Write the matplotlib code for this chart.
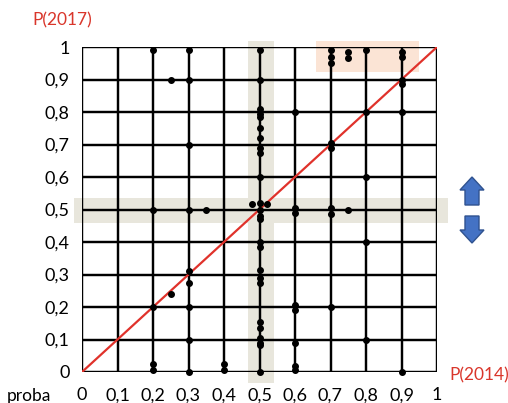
import numpy as np
import matplotlib
matplotlib.use('Agg')
import matplotlib.pyplot as plt
from matplotlib.patches import Rectangle, Polygon

## Data: probability in 2014 (x) vs probability in 2017 (y), read column by column
cols_2014 = [0.2, 0.25, 0.3, 0.35, 0.4, 0.48, 0.52, 0.5, 0.6, 0.7, 0.75, 0.8, 0.9]
vals_2017 = [
    [0.99, 0.5, 0.2, 0.025, 0.005],
    [0.9, 0.24],
    [0.99, 0.9, 0.7, 0.5, 0.31, 0.275, 0.2, 0.1, 0.0],
    [0.5],
    [0.025, 0.005],
    [0.517],
    [0.517],
    [0.99, 0.9, 0.81, 0.795, 0.785, 0.75, 0.72, 0.69, 0.675, 0.6,
     0.52, 0.5, 0.48, 0.47, 0.40, 0.385, 0.315, 0.29, 0.275,
     0.155, 0.135, 0.105, 0.09, 0.083, 0.0],
    [0.8, 0.505, 0.49, 0.205, 0.19, 0.09, 0.02, 0.005],
    [0.99, 0.97, 0.95, 0.705, 0.69, 0.505, 0.485, 0.2],
    [0.985, 0.965, 0.5],
    [0.99, 0.8, 0.6, 0.4, 0.1],
    [0.985, 0.97, 0.9, 0.885, 0.8, 0.0],
]
ticks = np.round(np.arange(0, 1.01, 0.1), 1)
tick_labels = ['0' if t == 0 else '1' if t == 1 else ('%.1f' % t).replace('.', ',') for t in ticks]

px = []
py = []
for xv, ys in zip(cols_2014, vals_2017):
    px += [xv] * len(ys)
    py += ys

W, H = 508, 403
fig = plt.figure(figsize=(W / 100, H / 100), dpi=100)
plt.rcParams['font.family'] = ['Lato', 'DejaVu Sans']

ax = fig.add_axes([82 / W, 31 / H, 355 / W, 325 / H])
ax.set_xlim(0, 1)
ax.set_ylim(0, 1)

## shaded bands (partly outside the axes)
beige = '#e8e6dc'
ax.add_patch(Rectangle((0.468, -0.035), 0.073, 1.052, color=beige, zorder=0, clip_on=False, lw=0))
ax.add_patch(Rectangle((-0.022, 0.457), 1.054, 0.077, color=beige, zorder=0, clip_on=False, lw=0))
ax.add_patch(Rectangle((0.659, 0.924), 0.29, 0.093, color='#fbe4d5', zorder=0, clip_on=False, lw=0))

## grid
for t in ticks:
    ax.axvline(t, color='k', lw=1.75, zorder=1)
    ax.axhline(t, color='k', lw=1.75, zorder=1)
for s in ax.spines.values():
    s.set_visible(False)
ax.patch.set_alpha(0)

## diagonal
ax.plot([0, 1], [0, 1], color='#e0322b', lw=1.6, zorder=2)
ax.plot(px, py, 'o', color='k', ms=4.0, zorder=3, clip_on=False)

ax.set_xticks(ticks)
ax.set_xticklabels(tick_labels)
ax.set_yticks(ticks)
ax.set_yticklabels(tick_labels)
ax.tick_params(length=0, labelsize=13)
ax.tick_params(axis='x', pad=11)
ax.tick_params(axis='y', pad=9)

fig.text(62 / W, 1 - 20 / H, 'P(2017)', color='#d9362b', fontsize=12.5, ha='center', va='center')
fig.text(479 / W, 1 - 375 / H, 'P(2014)', color='#d9362b', fontsize=12.5, ha='center', va='center')
fig.text(29 / W, 1 - 396 / H, 'proba', color='k', fontsize=12.5, ha='center', va='center')

## blue arrows
def arrow(x0, y_tip, y_end):
    hw, sw, hh = 12, 7, 13
    d = 1 if y_end > y_tip else -1
    pts = [(x0, y_tip), (x0 + hw, y_tip + d * hh), (x0 + sw, y_tip + d * hh),
           (x0 + sw, y_end), (x0 - sw, y_end), (x0 - sw, y_tip + d * hh),
           (x0 - hw, y_tip + d * hh)]
    pts = [(x / W, 1 - y / H) for x, y in pts]
    fig.add_artist(Polygon(pts, closed=True, transform=fig.transFigure,
                           facecolor='#4472c4', edgecolor='#2f528f', lw=1))

arrow(472, 177, 205)
arrow(472, 243, 216)

fig.savefig('out.png', dpi=100)
